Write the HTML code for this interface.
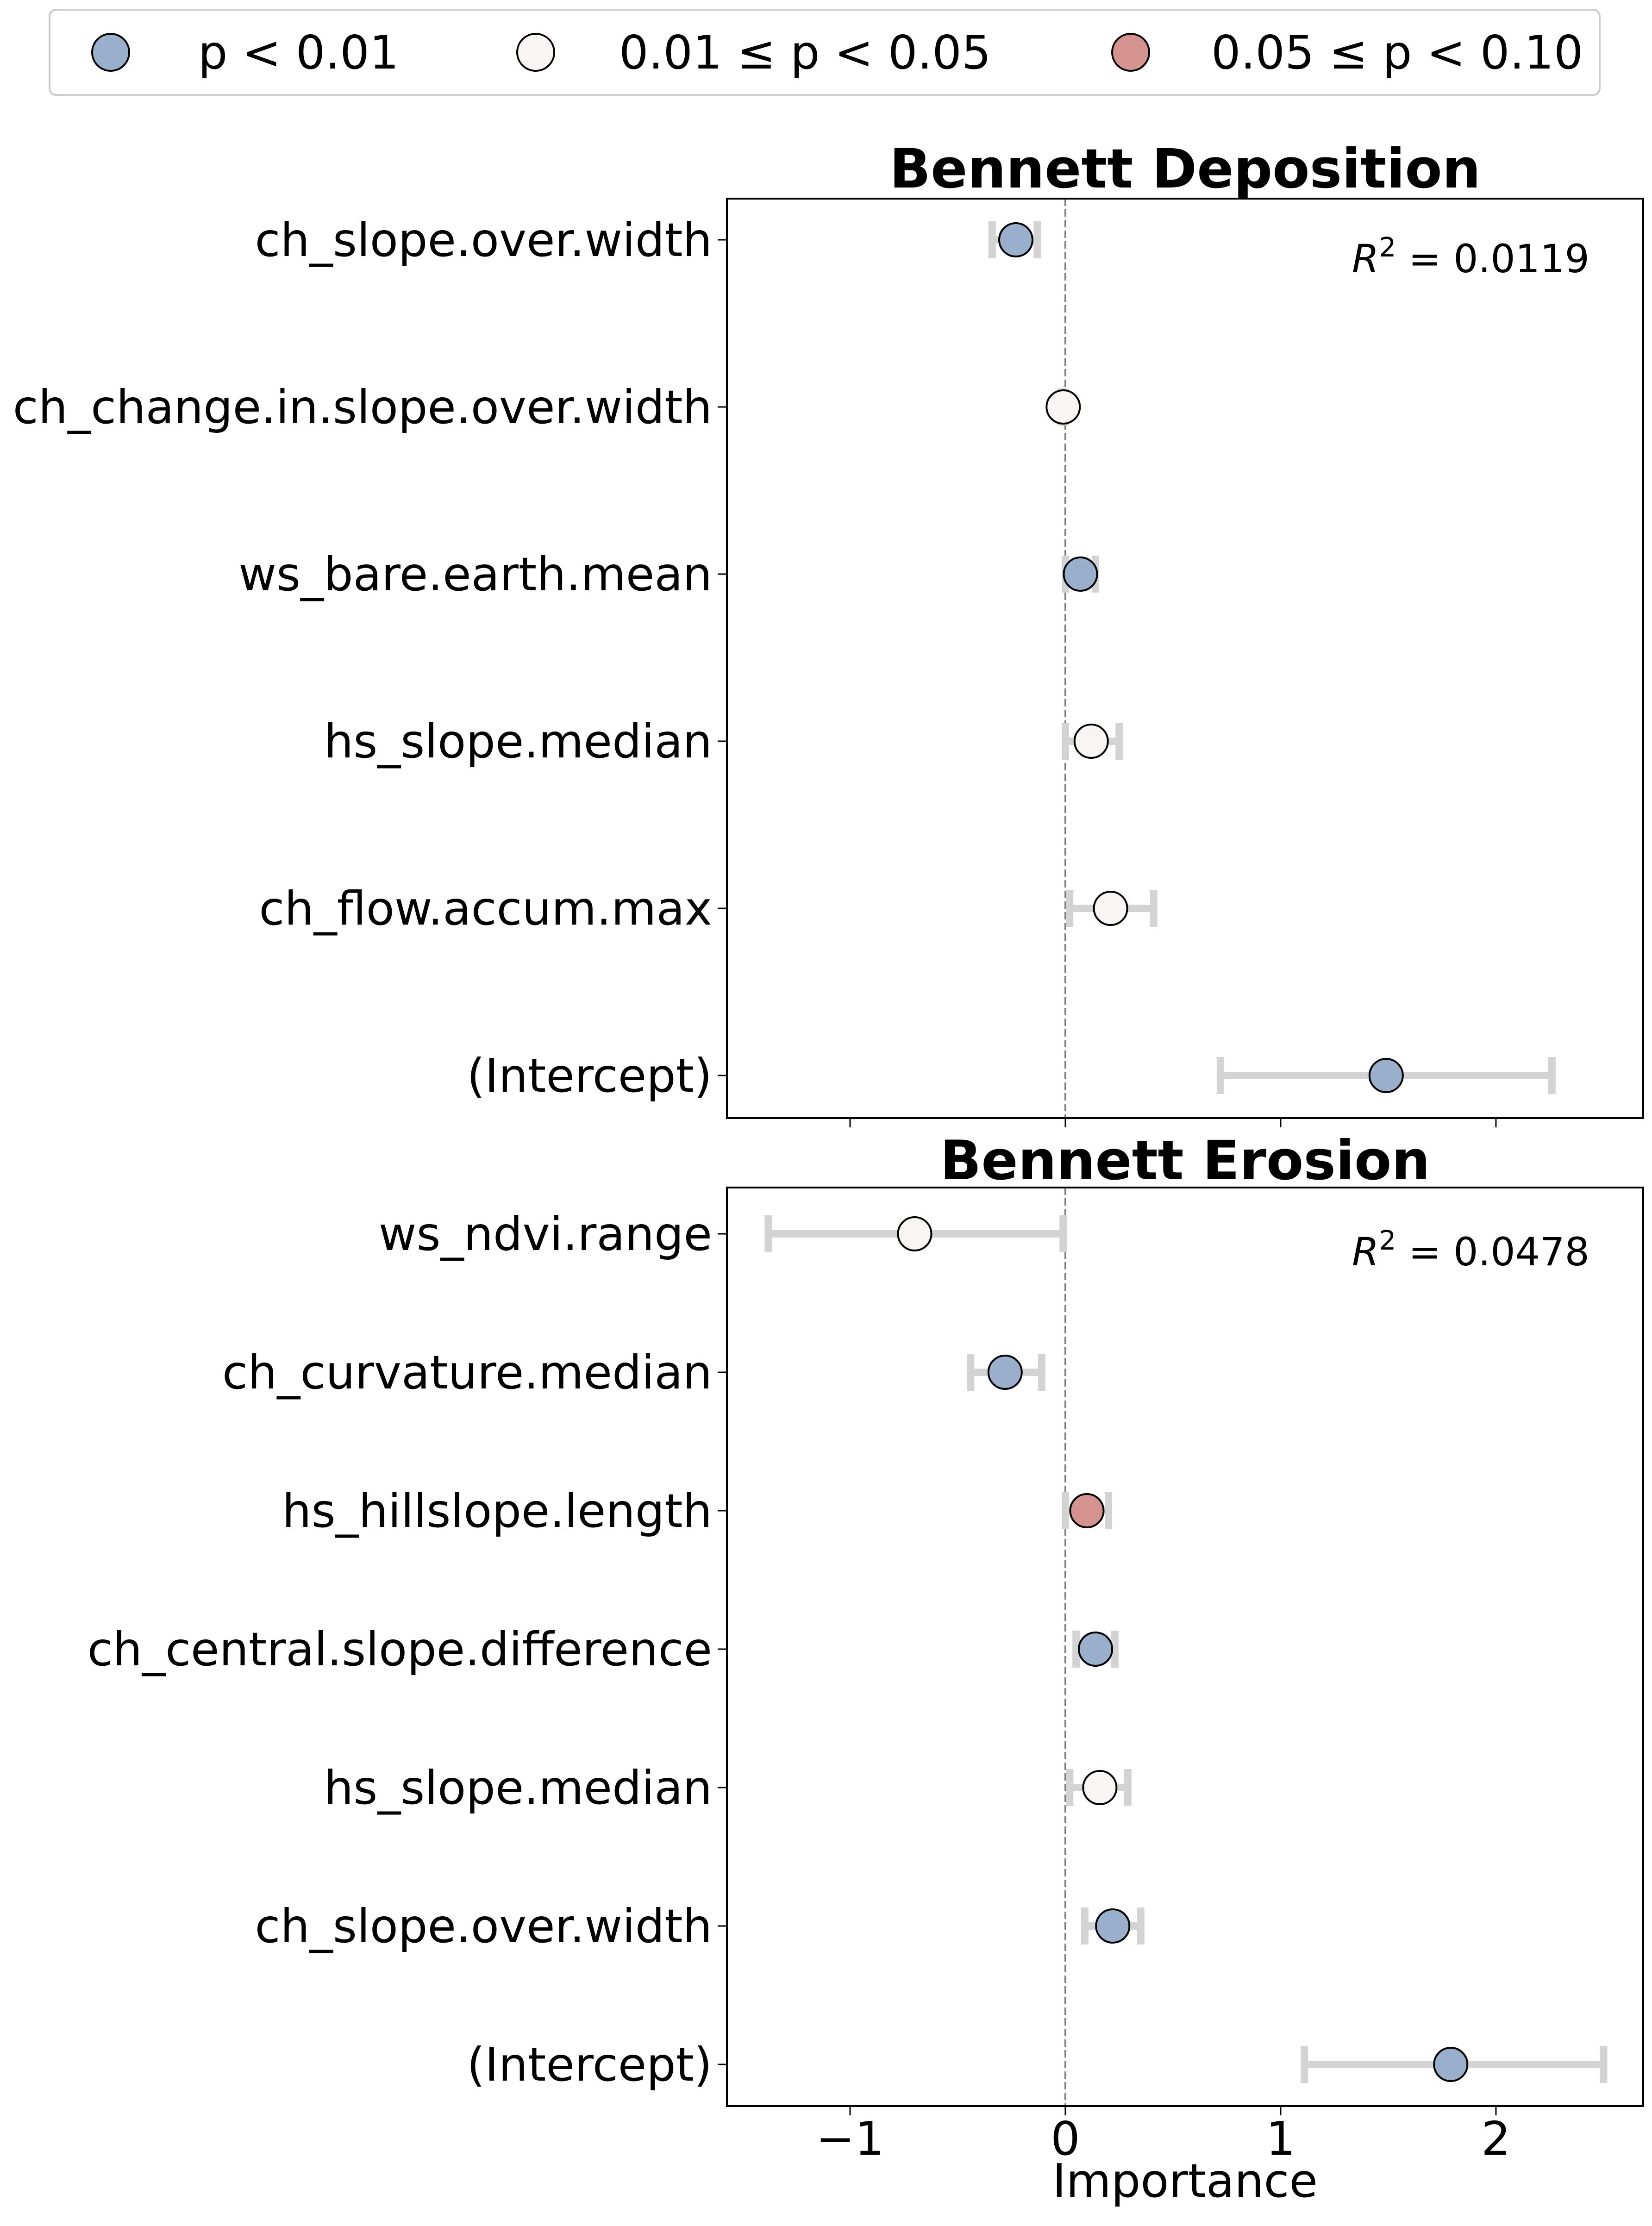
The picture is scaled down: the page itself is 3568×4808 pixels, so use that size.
<!DOCTYPE html>
<html><head><meta charset="utf-8"><style>body{margin:0;background:#fff}svg{display:block}text{font-family:"DejaVu Sans","Liberation Sans",sans-serif}</style></head>
<body>
<svg id="c" width="3568" height="4808" viewBox="0 0 3568 4808" xmlns="http://www.w3.org/2000/svg">
<g>
<rect x="107" y="21" width="3348" height="184" rx="14" fill="#fff" stroke="#cccccc" stroke-width="4"/>
<circle cx="239" cy="113" r="40" fill="#9aafcb" stroke="#000" stroke-width="4"/>
<text x="428" y="148" font-size="100">p &lt; 0.01</text>
<circle cx="1157" cy="113" r="40" fill="#faf5f5" stroke="#000" stroke-width="4"/>
<text x="1337" y="148" font-size="100">0.01 ≤ p &lt; 0.05</text>
<circle cx="2442" cy="113" r="40" fill="#d4938f" stroke="#000" stroke-width="4"/>
<text x="2616" y="148" font-size="100">0.05 ≤ p &lt; 0.10</text>
</g>
</svg>
<script>
const depLabels=["ch_slope.over.width","ch_change.in.slope.over.width","ws_bare.earth.mean","hs_slope.median","ch_flow.accum.max","(Intercept)"];
const depVals=[-0.23,-0.01,0.07,0.12,0.21,1.49];
const depLo=[-0.34,-0.02,0.0,0.0,0.02,0.72];
const depHi=[-0.13,0.0,0.14,0.25,0.41,2.26];
const depSig=[0,1,0,1,1,0];
const eroLabels=["ws_ndvi.range","ch_curvature.median","hs_hillslope.length","ch_central.slope.difference","hs_slope.median","ch_slope.over.width","(Intercept)"];
const eroVals=[-0.70,-0.28,0.10,0.14,0.16,0.22,1.79];
const eroLo=[-1.38,-0.44,0.0,0.05,0.02,0.09,1.11];
const eroHi=[-0.01,-0.11,0.20,0.23,0.29,0.35,2.50];
const eroSig=[1,0,2,0,1,0,0];
const xTicks=[-1,0,1,2];
const xTickLabels=["\u22121","0","1","2"];
const sigColors=["#9aafcb","#faf5f5","#d4938f"];
const NS="http://www.w3.org/2000/svg";
const svg=document.getElementById('c');
const L=1570,R=3549,XMIN=-1.572,XMAX=2.684;
function sx(v){return L+(v-XMIN)/(XMAX-XMIN)*(R-L);}
function el(tag,attrs,parent){const e=document.createElementNS(NS,tag);for(const k in attrs)e.setAttribute(k,attrs[k]);(parent||svg).appendChild(e);return e;}
function panel(name,title,top,bottom,firstY,step,labels,vals,lo,hi,sig,r2,titleY,r2Y,showTickLabels){
  const g=el('g',{});
  
  
  const z=el('line',{x1:sx(0),x2:sx(0),y1:top,y2:bottom,stroke:'#808080','stroke-width':4,'stroke-dasharray':'16 7'},g);
  
  
  labels.forEach((lab,i)=>{
    const y=firstY+i*step;
    const tk=el('line',{x1:L-20,x2:L,y1:y,y2:y,stroke:'#000','stroke-width':3},g);
    
    
    const t=el('text',{x:L-32,y:y+35,'font-size':100,'text-anchor':'end'},g);
    t.textContent=lab;
    
    
    const eb=el('g',{stroke:'#d3d3d3','stroke-width':16,fill:'none'},g);
    
    
    el('line',{x1:sx(lo[i]),x2:sx(hi[i]),y1:y,y2:y},eb);
    el('line',{x1:sx(lo[i]),x2:sx(lo[i]),y1:y-40,y2:y+40},eb);
    el('line',{x1:sx(hi[i]),x2:sx(hi[i]),y1:y-40,y2:y+40},eb);
    const c=el('circle',{cx:sx(vals[i]),cy:y,r:36,fill:sigColors[sig[i]],stroke:'#000','stroke-width':4},g);
    
    
  });
  const fr=el('rect',{x:L,y:top,width:R-L,height:bottom-top,fill:'none',stroke:'#000','stroke-width':4},g);
  
  
  xTicks.forEach((v,i)=>{
    const tk=el('line',{x1:sx(v),x2:sx(v),y1:bottom,y2:bottom+20,stroke:'#000','stroke-width':3},g);
    
    
    if(showTickLabels){
      const t=el('text',{x:sx(v),y:bottom+105,'font-size':100,'text-anchor':'middle'},g);
      t.textContent=xTickLabels[i];
      
      
    }
  });
  const tt=el('text',{x:(L+R)/2,y:titleY,'font-size':117,'font-weight':'bold','text-anchor':'middle'},g);
  tt.textContent=title;
  
  
  const rt=el('text',{x:3433,y:r2Y,'font-size':84,'text-anchor':'end'},g);
  rt.innerHTML='<tspan font-style="italic">R</tspan><tspan font-size="58" dy="-34">2</tspan><tspan dy="34"> = '+r2+'</tspan>';
  
  
}
panel('deposition-panel','Bennett Deposition',429,2415,518,361,depLabels,depVals,depLo,depHi,depSig,'0.0119',405,588,false);
panel('erosion-panel','Bennett Erosion',2565,4549,2665,299,eroLabels,eroVals,eroLo,eroHi,eroSig,'0.0478',2547,2733,true);
const xl=el('text',{x:(L+R)/2,y:4745,'font-size':100,'text-anchor':'middle'});
xl.textContent='Importance';


</script>
</body></html>
